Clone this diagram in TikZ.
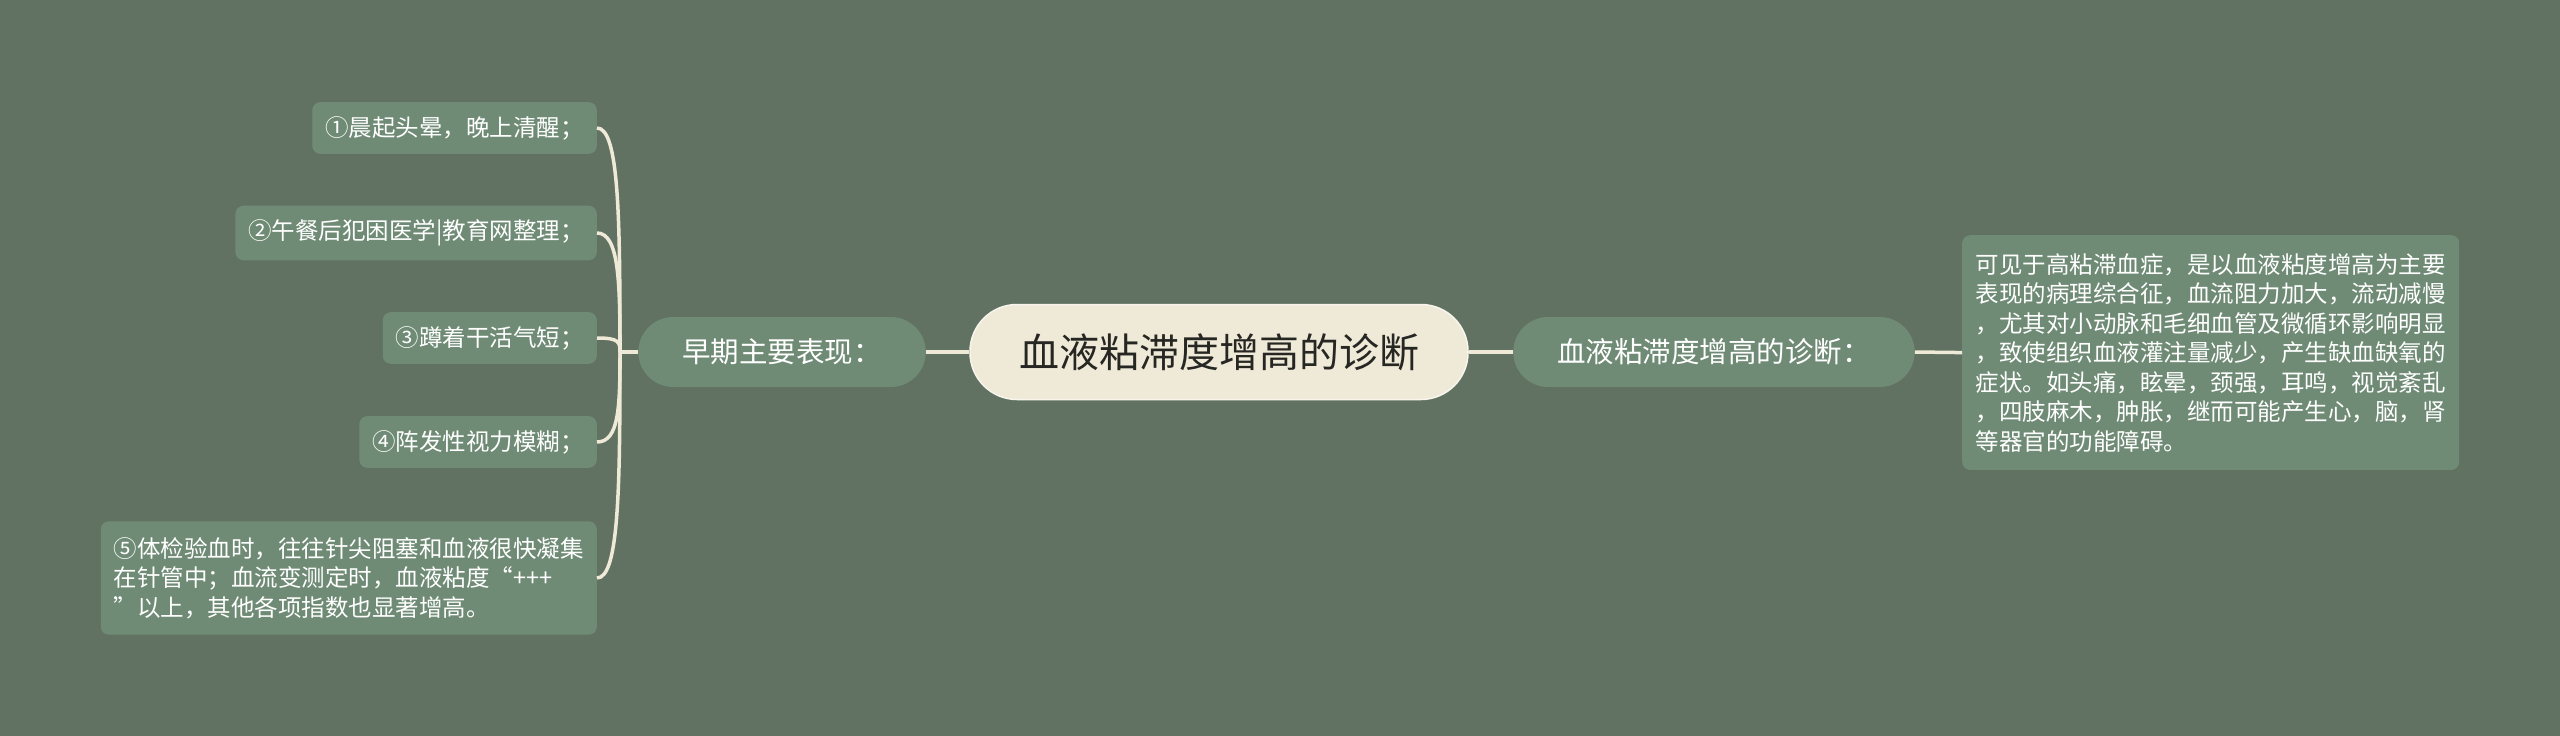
\documentclass[tikz,border=0pt]{standalone}
\usepackage{fontspec}
\setmainfont{Noto Sans CJK SC}
\usetikzlibrary{positioning}
\definecolor{sagebg}{RGB}{97,114,98}
\definecolor{sagebox}{RGB}{111,139,117}
\definecolor{creamline}{RGB}{239,233,216}
\definecolor{inkdark}{RGB}{38,38,34}

\tikzset{
  leafbox/.style={fill=sagebox, text=white, rounded corners=8pt, align=left,
    inner xsep=13pt, inner ysep=14pt, font=\fontsize{23.5}{29.5}\selectfont},
  midbox/.style={fill=sagebox, text=white, rounded corners=35pt,
    minimum height=70pt, inner xsep=44pt, font=\fontsize{28.5}{34}\selectfont},
  rootbox/.style={fill=creamline, draw=white!55!creamline, line width=1.5pt,
    text=inkdark, rounded corners=47pt, minimum height=95pt, inner xsep=49pt,
    font=\fontsize{40}{48}\selectfont},
  link/.style={draw=creamline, line width=3.5pt},
}

\begin{document}
\begin{tikzpicture}[x=1pt,y=-1pt]
  \fill[sagebg] (0,0) rectangle (2560,736);
  \useasboundingbox (0,0) rectangle (2560,736);

  \coordinate (hub) at (620,352);

  \node[rootbox] (root) at (1219,352) {血液粘滞度增高的诊断};
  \node[midbox, anchor=east] (early) at (926,352) {早期主要表现：};
  \node[midbox, anchor=west] (diag) at (1513,352) {血液粘滞度增高的诊断：};

  % left leaves
  \node[leafbox, anchor=east] (l1) at (597,128) {①晨起头晕，晚上清醒；};
  \node[leafbox, anchor=east] (l2) at (597,233) {②午餐后犯困医学|教育网整理；};
  \node[leafbox, anchor=east] (l3) at (597,338) {③蹲着干活气短；};
  \node[leafbox, anchor=east] (l4) at (597,442) {④阵发性视力模糊；};
  \node[leafbox, anchor=east, inner ysep=16pt] (l5) at (597,578)
    {⑤体检验血时，往往针尖阻塞和血液很快凝集\\在针管中；血流变测定时，血液粘度“+++\\”以上，其他各项指数也显著增高。};

  % right leaf
  \node[leafbox, anchor=north west, inner xsep=13.5pt, inner ysep=18pt] (r1) at (1962,235)
    {可见于高粘滞血症，是以血液粘度增高为主要\\表现的病理综合征，血流阻力加大，流动减慢\\，尤其对小动脉和毛细血管及微循环影响明显\\，致使组织血液灌注量减少，产生缺血缺氧的\\症状。如头痛，眩晕，颈强，耳鸣，视觉紊乱\\，四肢麻木，肿胀，继而可能产生心，脑，肾\\等器官的功能障碍。};

  \draw[link] (root.west) -- (early.east);
  \draw[link] (root.east) -- (diag.west);
  \draw[link] (diag.east) -- (r1.west);
  \draw[link] (hub) -- (early.west);

  \foreach \leaf/\bend in {l1/-135, l2/-70, l3/-10, l4/55, l5/135}
  {
    \draw[link] (\leaf.east) .. controls +(22,0) and +(0,\bend) .. (hub);
  }
\end{tikzpicture}
\end{document}
